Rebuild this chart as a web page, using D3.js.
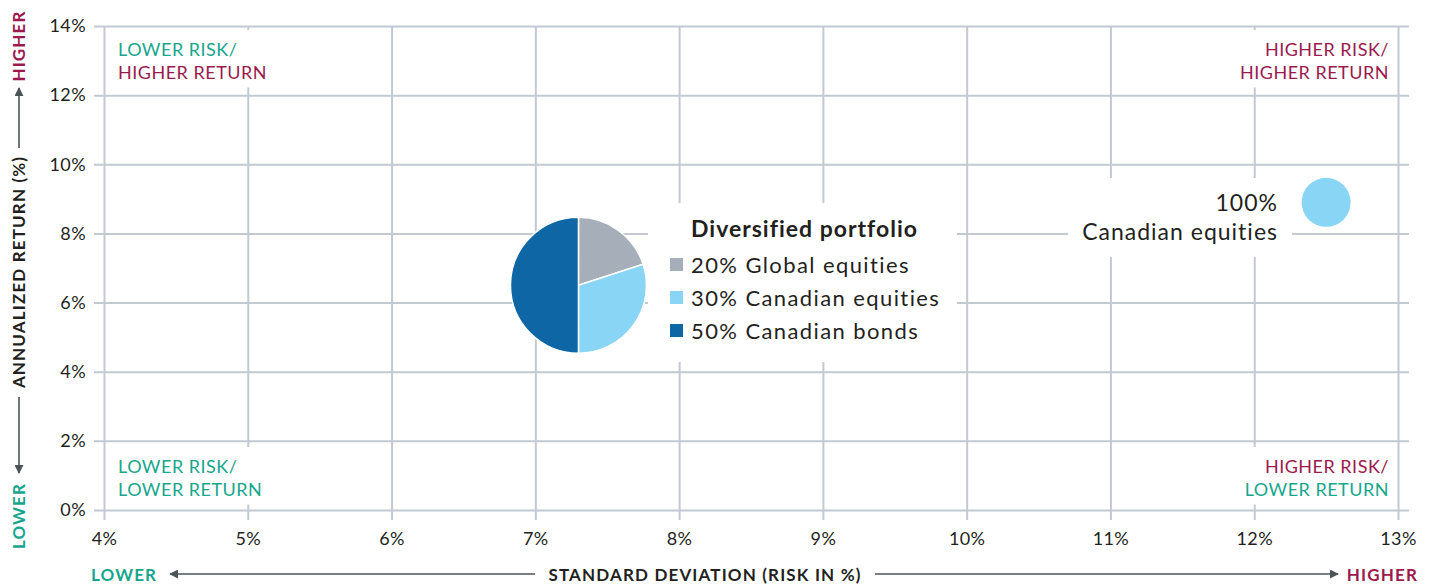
<!DOCTYPE html>
<html>
<head>
<meta charset="utf-8">
<script src="https://cdn.jsdelivr.net/npm/d3@7"></script>
<style>
  html, body { margin: 0; padding: 0; background: #fff; }
  svg { display: block; font-family: Lato, "Open Sans", sans-serif; }
</style>
</head>
<body>
<svg id="chart" width="1434" height="586"></svg>
<script>
// ---- data ----
const xTicks = [4, 5, 6, 7, 8, 9, 10, 11, 12, 13];
const yTicks = [0, 2, 4, 6, 8, 10, 12, 14];
const pieLabels = ["20% Global equities", "30% Canadian equities", "50% Canadian bonds"];
const pieValues = [20, 30, 50];
const pieColors = ["#a6afb9", "#89d5f6", "#0e66a4"];
const portfolioX = 7.3, portfolioY = 6.5;      // diversified portfolio position
const equityX = 12.5, equityY = 8.9;           // 100% Canadian equities position
const legendTitle = "Diversified portfolio";
const equityLabel = ["100%", "Canadian equities"];
const xTitle = "STANDARD DEVIATION (RISK IN %)";
const yTitle = "ANNUALIZED RETURN (%)";

const TEAL = "#17a68d", CRIMSON = "#9b1a4e", GRID = "#c2c9d1", ARROW = "#4b5457", TXT = "#231f20";

const svg = d3.select("#chart");
const x = d3.scaleLinear().domain([4, 13]).range([104, 1398]);
const y = d3.scaleLinear().domain([0, 14]).range([510, 26]);

// ---- grid + axes ----
const gx = svg.append("g").attr("transform", "translate(0,520)")
  .call(d3.axisBottom(x).tickValues(xTicks).tickSize(-(520 - 26)).tickPadding(12).tickFormat(d => d + "%"));
const gy = svg.append("g").attr("transform", "translate(94,0)")
  .call(d3.axisLeft(y).tickValues(yTicks).tickSize(-(1409 - 94)).tickPadding(8).tickFormat(d => d + "%"));
[gx, gy].forEach(g => {
  g.select(".domain").remove();
  g.selectAll(".tick line").attr("stroke", GRID).attr("stroke-width", 2);
  g.selectAll(".tick text").attr("fill", TXT).style("font-size", "18px").style("font-family", "Lato")
    .style("letter-spacing", "0.4px");
});

// helper for white-backed text blocks
const labels = svg.append("g");
function block(lines, xPos, yBase, anchor, size, lh, pad, ls) {
  const g = labels.append("g");
  const bg = g.append("rect").attr("fill", "#fff");
  lines.forEach((l, i) => {
    g.append("text").attr("x", xPos).attr("y", yBase + i * lh)
      .attr("text-anchor", anchor).attr("fill", l.c).style("font-size", size + "px")
      .style("letter-spacing", ls + "px").style("font-weight", l.w || 400).text(l.t);
  });
  const b = g.node().getBBox();
  bg.attr("x", b.x - pad[0]).attr("y", b.y - pad[1]).attr("width", b.width + 2 * pad[0]).attr("height", b.height + pad[1] + pad[2]);
  return g;
}

// quadrant labels
block([{t: "LOWER RISK/", c: TEAL}, {t: "HIGHER RETURN", c: CRIMSON}], 118, 56, "start", 18, 22.5, [8, 8, 5], 0.5);
block([{t: "HIGHER RISK/", c: CRIMSON}, {t: "HIGHER RETURN", c: CRIMSON}], 1389, 56, "end", 18, 22.5, [8, 8, 5], 0.5);
block([{t: "LOWER RISK/", c: TEAL}, {t: "LOWER RETURN", c: TEAL}], 118, 473, "start", 18, 22.5, [8, 8, 5], 0.5);
block([{t: "HIGHER RISK/", c: CRIMSON}, {t: "LOWER RETURN", c: TEAL}], 1389, 473, "end", 18, 22.5, [8, 8, 5], 0.5);

// ---- legend box ----
const leg = svg.append("g");
const legBg = leg.append("rect").attr("fill", "#fff");
leg.append("text").attr("x", 691).attr("y", 237).attr("fill", TXT)
  .style("font-size", "23px").style("font-weight", 700).style("letter-spacing", "1px").text(legendTitle);
pieLabels.forEach((l, i) => {
  const yy = 273 + i * 33;
  leg.append("rect").attr("x", 670).attr("y", yy - 15).attr("width", 13).attr("height", 13).attr("fill", pieColors[i]);
  leg.append("text").attr("x", 691).attr("y", yy).attr("fill", TXT).style("font-size", "22px")
    .style("letter-spacing", "1.4px").text(l);
});
legBg.attr("x", 648).attr("y", 203).attr("width", 957 - 648).attr("height", 362 - 203);

// ---- equity label ----
block([{t: equityLabel[0], c: TXT}, {t: equityLabel[1], c: TXT}], 1278, 211, "end", 23, 29, [14, 10, 12], 1);

// ---- pie ----
const pie = d3.pie().sort(null).value(d => d)(pieValues);
const arc = d3.arc().innerRadius(0).outerRadius(68);
svg.append("g").attr("transform", `translate(${x(portfolioX)},${y(portfolioY)})`)
  .selectAll("path").data(pie).join("path")
  .attr("d", arc).attr("fill", (d, i) => pieColors[i]).attr("stroke", "#fff").attr("stroke-width", 1.5);

// ---- bubble ----
svg.append("circle").attr("cx", x(equityX)).attr("cy", y(equityY)).attr("r", 24.5).attr("fill", "#89d5f6");

// ---- arrows ----
const defs = svg.append("defs");
defs.append("marker").attr("id", "arr").attr("viewBox", "0 0 10 10").attr("refX", 9).attr("refY", 5)
  .attr("markerWidth", 9).attr("markerHeight", 9).attr("markerUnits", "userSpaceOnUse").attr("orient", "auto")
  .append("path").attr("d", "M0,0 L10,5 L0,10 Z").attr("fill", ARROW);

const line = (x1, y1, x2, y2) => svg.append("line").attr("x1", x1).attr("y1", y1).attr("x2", x2).attr("y2", y2)
  .attr("stroke", ARROW).attr("stroke-width", 1.6).attr("marker-end", "url(#arr)");

const bold = (sel) => sel.style("font-size", "17px").style("font-weight", 700).style("letter-spacing", "1.15px");

// x axis title
bold(svg.append("text").attr("x", 705).attr("y", 581).attr("text-anchor", "middle").attr("fill", TXT)).text(xTitle);
bold(svg.append("text").attr("x", 91).attr("y", 581).attr("fill", TEAL)).text("LOWER");
bold(svg.append("text").attr("x", 1418).attr("y", 581).attr("text-anchor", "end").attr("fill", CRIMSON)).text("HIGHER");
line(535, 574, 170, 574);
line(875, 574, 1338, 574);

// y axis title
const yt = (t, cy, col) => bold(svg.append("text").attr("transform", `translate(25,${cy}) rotate(-90)`)
  .attr("text-anchor", "middle").attr("fill", col)).text(t);
yt(yTitle, 272, TXT);
yt("HIGHER", 46, CRIMSON);
yt("LOWER", 516, TEAL);
line(19, 148, 19, 88);
line(19, 397, 19, 473);
</script>
</body>
</html>
